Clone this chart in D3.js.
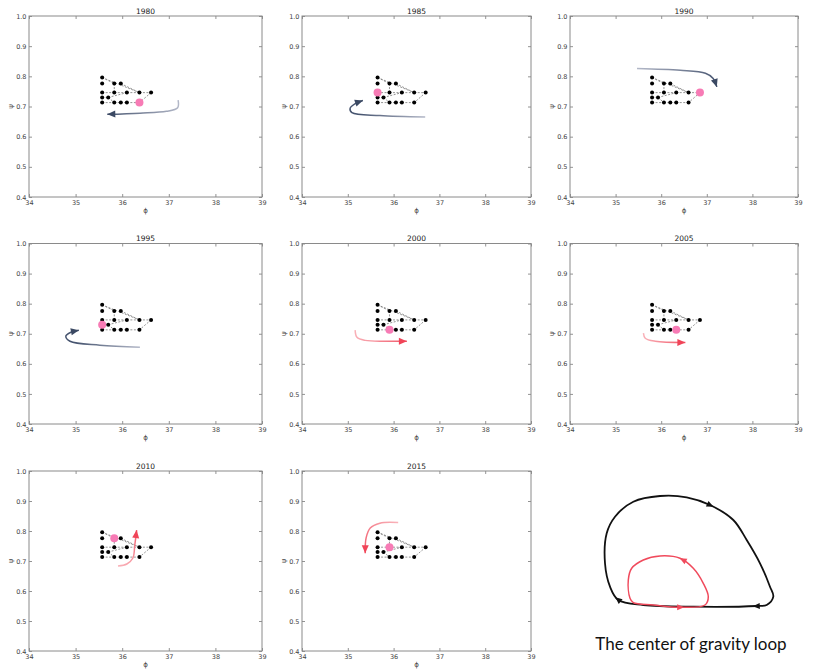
<!DOCTYPE html>
<html><head><meta charset="utf-8">
<script src="https://cdn.jsdelivr.net/npm/d3@7/dist/d3.min.js"></script>
<style>body{margin:0;background:#fff}</style>
</head><body>
<svg id="c" width="817" height="669" xmlns="http://www.w3.org/2000/svg"></svg>
<script>
// ---------------- data ----------------
const years = ["1980","1985","1990","1995","2000","2005","2010","2015"];
const xTicks = [34,35,36,37,38,39];
const yTicks = [0.4,0.5,0.6,0.7,0.8,0.9,1.0];
const xDomain = [34,39];
const yDomain = [0.4,1.0];

// network nodes (phi, psi)
const nodeX = [35.57,35.57,35.83,35.97,35.57,35.83,36.10,36.37,36.62,35.57,35.70,35.57,35.83,35.97,36.10,36.37];
const nodeY = [0.796,0.776,0.776,0.776,0.746,0.746,0.746,0.746,0.746,0.730,0.730,0.713,0.713,0.713,0.713,0.713];
const edges = [[0,2],[0,7],[3,7],[2,5],[4,5],[5,6],[6,7],[7,8],[8,15],[10,6],[9,10],[10,12],[11,12],[12,13],[13,14],[14,15]];
const clusterOffset = [0,0.08,0.23,0,0.08,0.23,0,0.08];

// centre of gravity per year
const centerX = [36.37,35.57,36.62,35.57,35.83,36.10,35.83,35.83];
const centerY = [0.713,0.746,0.746,0.730,0.713,0.713,0.776,0.746];

// movement arrows per year (tail -> tip)
const arrowX = [
  [37.20,37.19,36.95,36.38,35.68],
  [36.69,35.70,35.09,35.05,35.18,35.33],
  [35.47,36.42,36.97,37.14,37.22],
  [36.38,35.52,34.88,34.79,34.90,35.07],
  [35.16,35.20,35.38,35.81,36.29],
  [35.61,35.65,35.87,36.53],
  [35.91,36.10,36.23,36.27,36.31],
  [36.10,35.70,35.49,35.40,35.38]
];
const arrowY = [
  [0.721,0.696,0.684,0.678,0.674],
  [0.665,0.670,0.680,0.694,0.711,0.720],
  [0.826,0.820,0.810,0.793,0.765],
  [0.655,0.662,0.675,0.692,0.705,0.712],
  [0.712,0.688,0.678,0.675,0.675],
  [0.702,0.685,0.675,0.671],
  [0.683,0.690,0.710,0.753,0.803],
  [0.828,0.826,0.810,0.777,0.726]
];
const arrowKind = ["blue","blue","blue","blue","red","red","red","red"];

// schematic loop (local units)
const blackLoopX = [18.3,10,5,6.7,15,33.3,60,86.7,110,133.3,146.7,160,170,173.3,166.7,156.7,93.3,43.3];
const blackLoopY = [15,28.3,51.7,81.7,98.3,113.3,119,117.7,110,95,75,51.7,28.3,18.3,10,9,8.3,10];
const blackArrowX = [110,156.7,18.3];
const blackArrowY = [110,9,15];
const redLoopX = [33.3,53.3,80,105,108.3,103.3,93.3,80,60,43.3,31.7,28.3,30];
const redLoopY = [12.3,10,7.7,10,18.3,31.7,46.7,56.7,59,55,46.7,35,16.7];
const redArrowX = [83.3,80];
const redArrowY = [55,7.7];
const loopCaption = "The center of gravity loop";

// ---------------- layout ----------------
const colX = [[29,262],[302,531],[570,798]];
const rowY = [[16,197],[243.5,424],[471,651]];
const palette = {
  blue: {tail:"#b3b8c8", head:"#46546f", tip:"#3b4963"},
  red:  {tail:"#f9b2b9", head:"#f2596a", tip:"#f04458"}
};

const svg = d3.select("#c");
const defs = svg.append("defs");
const tickFont = "DejaVu Sans, sans-serif";

function arrowHead(g, x, y, ang, len, wid, color) {
  g.append("path")
    .attr("d", `M0,0L${-len},${-wid/2}L${-len},${wid/2}Z`)
    .attr("transform", `translate(${x},${y}) rotate(${ang*180/Math.PI})`)
    .attr("fill", color);
}

years.forEach((yr, i) => {
  const c = i % 3, r = Math.floor(i / 3);
  const x = d3.scaleLinear().domain(xDomain).range(colX[c]);
  const y = d3.scaleLinear().domain(yDomain).range([rowY[r][1], rowY[r][0]]);
  const g = svg.append("g");
  const [x0,x1] = colX[c], [y0,y1] = rowY[r];

  const styleAxis = sel => {
    sel.select(".domain").remove();
    sel.selectAll("line").attr("stroke", "#777").attr("stroke-width", 0.8);
    sel.selectAll("text").attr("font-family", tickFont).attr("font-size", 6.5).attr("fill", "#444");
  };
  g.append("g").attr("transform", `translate(0,${y1})`)
    .call(d3.axisBottom(x).tickValues(xTicks).tickSize(-3).tickPadding(3).tickFormat(d3.format("d"))).call(styleAxis);
  g.append("g").attr("transform", `translate(0,${y0})`)
    .call(d3.axisTop(x).tickValues(xTicks).tickSize(-3).tickFormat("")).call(styleAxis);
  g.append("g").attr("transform", `translate(${x0},0)`)
    .call(d3.axisLeft(y).tickValues(yTicks).tickSize(-3).tickPadding(2.5).tickFormat(d3.format(".1f"))).call(styleAxis);
  g.append("g").attr("transform", `translate(${x1},0)`)
    .call(d3.axisRight(y).tickValues(yTicks).tickSize(-3).tickFormat("")).call(styleAxis);

  g.append("rect").attr("x", x0).attr("y", y0).attr("width", x1 - x0).attr("height", y1 - y0)
    .attr("fill", "none").attr("stroke", "#8a8a8a").attr("stroke-width", 1);

  g.append("text").attr("x", (x0 + x1) / 2).attr("y", y0 - 2.5).attr("text-anchor", "middle")
    .attr("font-family", tickFont).attr("font-size", 7.5).attr("fill", "#222").text(yr);
  g.append("text").attr("x", (x0 + x1) / 2).attr("y", y1 + 15.5).attr("text-anchor", "middle")
    .attr("font-family", tickFont).attr("font-size", 7).attr("fill", "#444").text("ϕ");
  g.append("text").attr("transform", `translate(${x0 - 16},${(y0 + y1) / 2}) rotate(-90)`).attr("text-anchor", "middle")
    .attr("font-family", tickFont).attr("font-size", 7).attr("fill", "#444").text("ψ");

  const off = clusterOffset[i];
  const nx = k => x(nodeX[k] + off), ny = k => y(nodeY[k]);
  g.append("g").selectAll("line").data(edges).join("line")
    .attr("x1", d => nx(d[0])).attr("y1", d => ny(d[0]))
    .attr("x2", d => nx(d[1])).attr("y2", d => ny(d[1]))
    .attr("stroke", "#7a7a7a").attr("stroke-width", 0.8).attr("stroke-dasharray", "2,1.5");
  g.append("g").selectAll("circle").data(nodeX.map((v, k) => k)).join("circle")
    .attr("cx", nx).attr("cy", ny).attr("r", 2).attr("fill", "#000");
  g.append("circle").attr("cx", x(centerX[i] + off)).attr("cy", y(centerY[i])).attr("r", 4)
    .attr("fill", "#f77bb5");

  const pts = arrowX[i].map((v, k) => [x(v), y(arrowY[i][k])]);
  const pal = palette[arrowKind[i]];
  const gid = "grad" + i;
  const tail = pts[0], tip = pts[pts.length - 1];
  const gr = defs.append("linearGradient").attr("id", gid).attr("gradientUnits", "userSpaceOnUse")
    .attr("x1", tail[0]).attr("y1", tail[1]).attr("x2", tip[0]).attr("y2", tip[1]);
  gr.append("stop").attr("offset", 0).attr("stop-color", pal.tail);
  gr.append("stop").attr("offset", 1).attr("stop-color", pal.head);
  const line = d3.line().curve(d3.curveCatmullRom.alpha(0.5));
  const p = g.append("path").attr("d", line(pts)).attr("fill", "none")
    .attr("stroke", `url(#${gid})`).attr("stroke-width", 1.5);
  const node = p.node(), L = node.getTotalLength();
  const a = node.getPointAtLength(L - 4), b = node.getPointAtLength(L);
  arrowHead(g, b.x, b.y, Math.atan2(b.y - a.y, b.x - a.x), 8, 7, pal.tip);
});

// ---------------- loop schematic ----------------
const lx = d3.scaleLinear().domain([0,180]).range([600,780]);
const ly = d3.scaleLinear().domain([0,125]).range([615,490]);
const lg = svg.append("g");
const closed = d3.line().x(d => lx(d[0])).y(d => ly(d[1])).curve(d3.curveCatmullRomClosed.alpha(0.5));

function drawLoop(xs, ys, axs, ays, color, width) {
  const p = lg.append("path").attr("d", closed(xs.map((v, k) => [v, ys[k]])))
    .attr("fill", "none").attr("stroke", color).attr("stroke-width", width);
  const node = p.node(), L = node.getTotalLength();
  axs.forEach((ax, k) => {
    const tx = lx(ax), ty = ly(ays[k]);
    let best = 0, bd = Infinity;
    for (let s = 0; s <= L; s += 0.5) {
      const q = node.getPointAtLength(s);
      const d = (q.x - tx) ** 2 + (q.y - ty) ** 2;
      if (d < bd) { bd = d; best = s; }
    }
    const s1 = (best + 4) % L, s0 = (best - 2 + L) % L;
    const q1 = node.getPointAtLength(s1), q0 = node.getPointAtLength(s0);
    arrowHead(lg, q1.x, q1.y, Math.atan2(q1.y - q0.y, q1.x - q0.x), 7, 6, color);
  });
}
drawLoop(blackLoopX, blackLoopY, blackArrowX, blackArrowY, "#111", 1.8);
drawLoop(redLoopX, redLoopY, redArrowX, redArrowY, "#f04a5c", 1.5);

lg.append("text").attr("x", 691).attr("y", 650).attr("text-anchor", "middle")
  .attr("font-family", "Lato, 'Open Sans', sans-serif").attr("font-size", 17).attr("fill", "#111")
  .text(loopCaption);
</script>
</body></html>
